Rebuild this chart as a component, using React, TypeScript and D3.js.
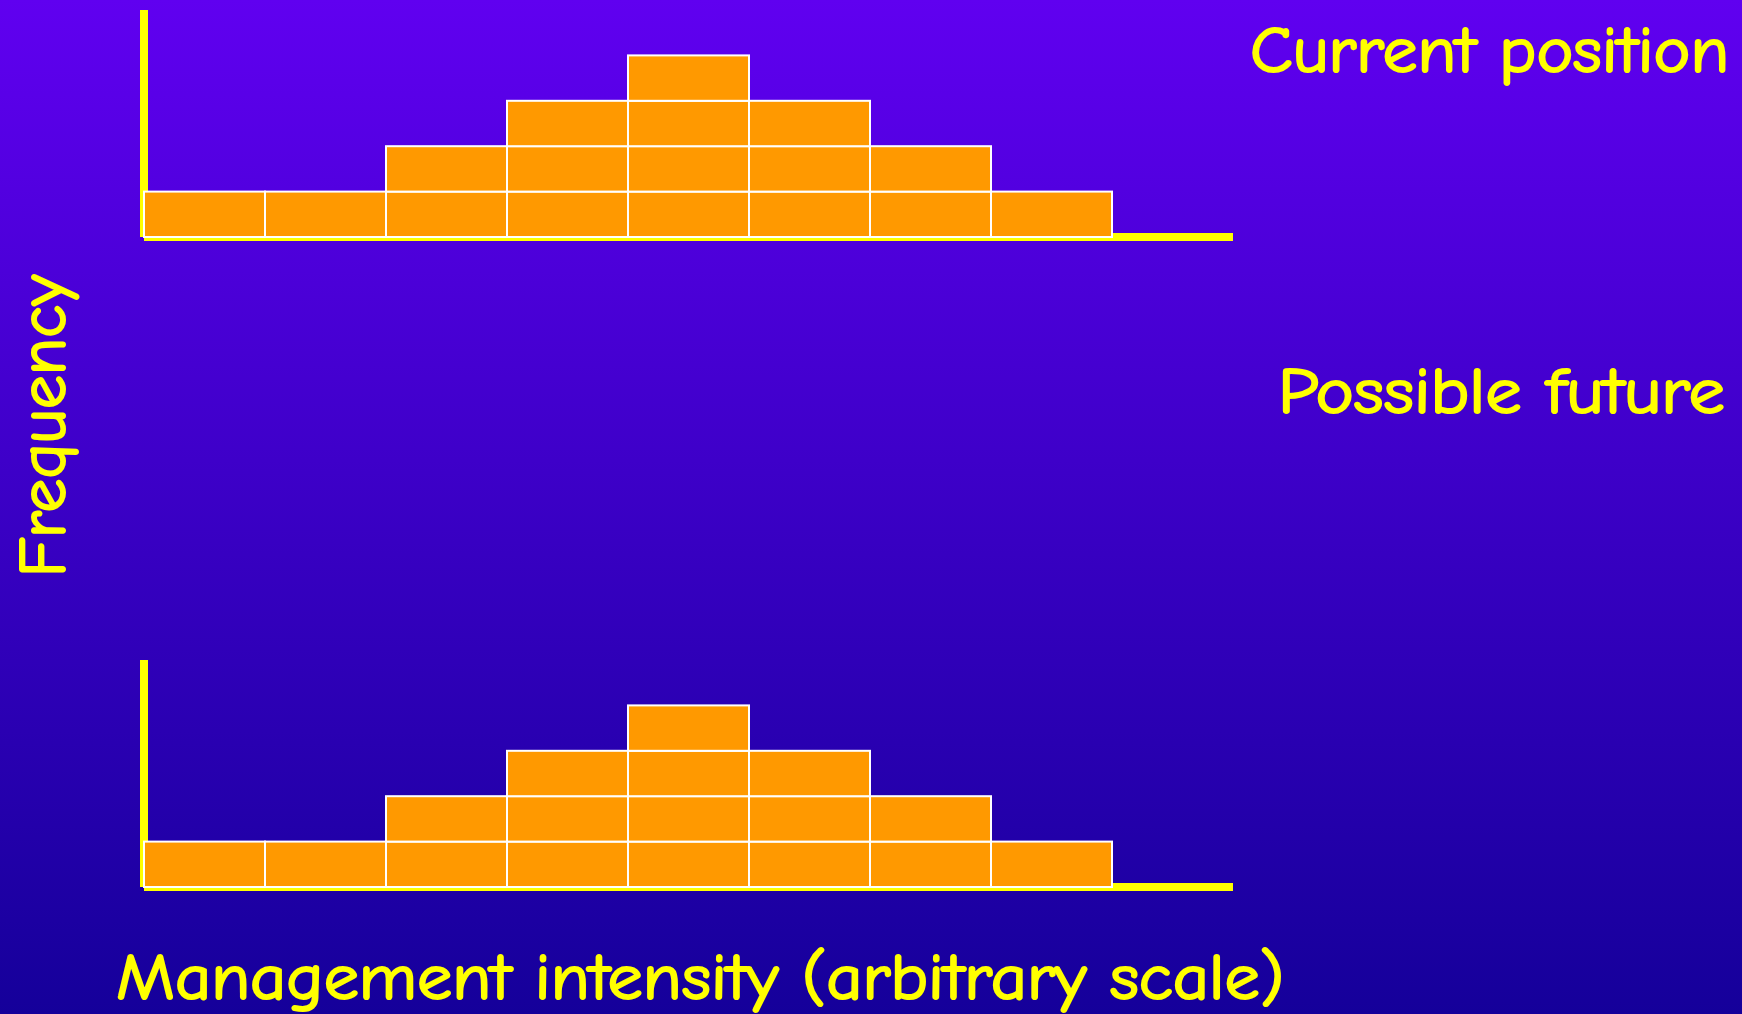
import React, { useRef, useEffect } from 'react';
import * as d3 from 'd3';

// intensity bins along the x axis (the last one is empty)
const bins = ['1', '2', '3', '4', '5', '6', '7', '8', '9'];
const currentCounts = [1, 1, 2, 3, 4, 3, 2, 1, 0];
const futureCounts = [1, 1, 2, 3, 4, 3, 2, 1, 0];
const panelTitles = ['Current position', 'Possible future'];
const xTitle = 'Management intensity (arbitrary scale)';
const yTitle = 'Frequency';

const W = 1742;
const H = 1014;
const FONT = '"Comic Sans MS", "Comic Neue", Lato, "Open Sans", sans-serif';

function App() {
  const ref = useRef<SVGSVGElement>(null);

  useEffect(() => {
    const svg = d3.select(ref.current);
    svg.selectAll('*').remove();

    const defs = svg.append('defs');
    const grad = defs
      .append('linearGradient')
      .attr('id', 'bg')
      .attr('x1', 0)
      .attr('y1', 0)
      .attr('x2', 0)
      .attr('y2', 1);
    grad.append('stop').attr('offset', '0%').attr('stop-color', '#6000f0');
    grad.append('stop').attr('offset', '100%').attr('stop-color', '#15009a');

    svg.append('rect').attr('width', W).attr('height', H).attr('fill', 'url(#bg)');

    const x = d3.scaleBand().domain(bins).range([144, 1233]).padding(0);
    const y = d3.scaleLinear().domain([0, 5]).range([237, 10]);

    const panels = [
      { counts: currentCounts, dy: 0 },
      { counts: futureCounts, dy: 650 },
    ];

    panels.forEach((p) => {
      const g = svg.append('g').attr('transform', `translate(0,${p.dy})`);

      // one cell per unit of frequency
      const cells = p.counts.flatMap((c, i) => d3.range(c).map((k) => ({ bin: bins[i], k })));

      // baseline (under the bars)
      g.append('line')
        .attr('x1', x.range()[0])
        .attr('x2', x.range()[1])
        .attr('y1', y(0))
        .attr('y2', y(0))
        .attr('stroke', '#ffff00')
        .attr('stroke-width', 8);

      // y axis
      g.append('line')
        .attr('x1', x.range()[0])
        .attr('x2', x.range()[0])
        .attr('y1', y(5))
        .attr('y2', y(0))
        .attr('stroke', '#ffff00')
        .attr('stroke-width', 8);

      g.selectAll('rect.cell')
        .data(cells)
        .enter()
        .append('rect')
        .attr('class', 'cell')
        .attr('x', (d) => x(d.bin)!)
        .attr('y', (d) => y(d.k + 1))
        .attr('width', x.bandwidth())
        .attr('height', y(0) - y(1))
        .attr('fill', '#ff9900')
        .attr('stroke', '#ffffff')
        .attr('stroke-width', 2);
    });

    const style = (t: d3.Selection<SVGTextElement, unknown, null, undefined>, size: number, len: number) =>
      t
        .attr('fill', '#ffff00')
        .attr('stroke', '#ffff00')
        .attr('stroke-width', 2)
        .attr('stroke-linejoin', 'round')
        .attr('font-family', FONT)
        .attr('font-size', size)
        .attr('textLength', len)
        .attr('lengthAdjust', 'spacingAndGlyphs');

    const txt = (s: string, tx: number, ty: number, len: number, size: number) =>
      style(svg.append('text').attr('x', tx).attr('y', ty).text(s), size, len);

    txt(panelTitles[0], 1250, 72, 479, 64);
    txt(panelTitles[1], 1278, 413, 447, 64);
    txt(xTitle, 116, 999, 1168, 64);

    style(
      svg.append('text').attr('transform', 'translate(65,577) rotate(-90)').text(yTitle),
      66,
      302
    );
  }, []);

  return (
    <svg
      ref={ref}
      width={W}
      height={H}
      style={{ position: 'absolute', left: 0, top: 0, display: 'block' }}
    />
  );
}

export default App;
